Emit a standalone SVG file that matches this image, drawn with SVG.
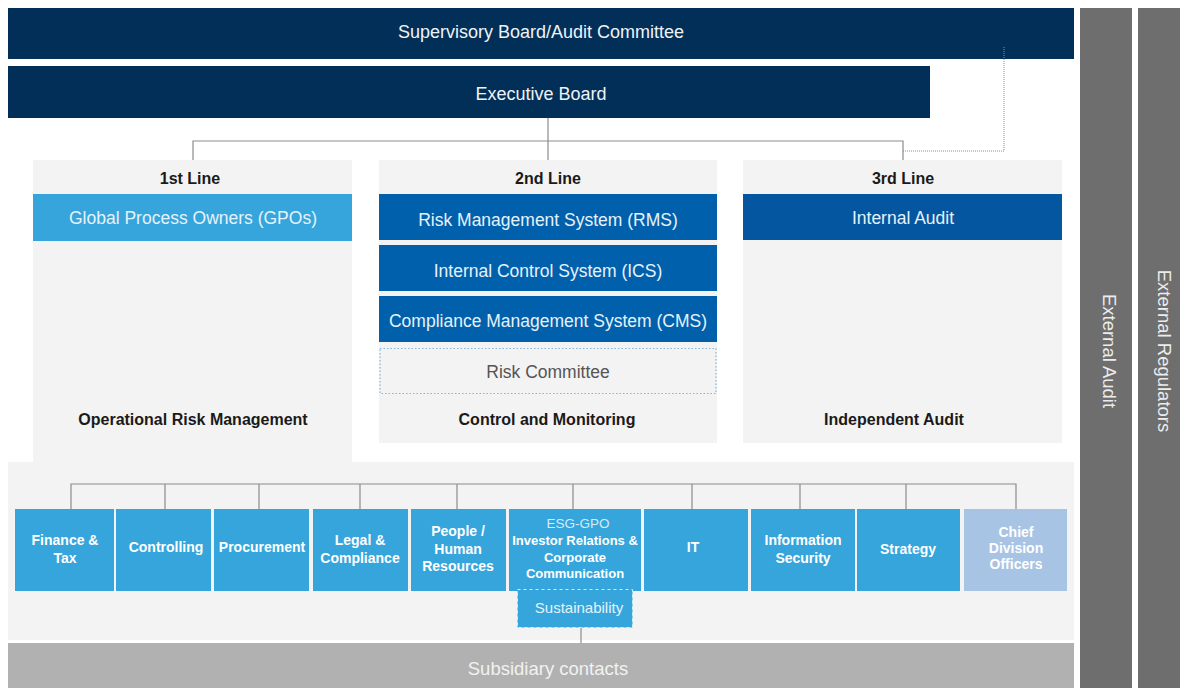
<svg xmlns="http://www.w3.org/2000/svg" width="1180" height="688" viewBox="0 0 1180 688">
<style>
text{font-family:"Liberation Sans",Arial,Helvetica,sans-serif;text-anchor:middle}
.navy{fill:#022f57}
.ext{fill:#6d6e6d}
.panel{fill:#f3f3f3}
.lb{fill:#35a5dc}
.db{fill:#0160ac}
.ia{fill:#03569f}
.wt{fill:#eef3f8;font-size:18px}
.bt{fill:#e6f2fa;font-size:17.5px}
.hd{fill:#1a1a1a;font-size:16px;font-weight:bold}
.unit{fill:#ffffff;font-size:14px;font-weight:bold}
.vt{fill:#ececec;font-size:18.5px;dominant-baseline:central}
.conn{stroke:#8c8c8c;stroke-width:1.2;fill:none}
</style>
<rect x="0" y="0" width="1180" height="688" fill="#ffffff"/>

<g id="external-audit"><rect class="ext" x="1080" y="8" width="52" height="680"/><text class="vt" transform="translate(1109,351) rotate(90)">External Audit</text></g>
<g id="external-regulators"><rect class="ext" x="1138" y="8" width="42" height="680"/><text class="vt" transform="translate(1164,351) rotate(90)">External Regulators</text></g>

<g id="supervisory-board"><rect class="navy" x="8" y="8" width="1066" height="51"/><text class="wt" x="541" y="38">Supervisory Board/Audit Committee</text></g>
<g id="executive-board"><rect class="navy" x="8" y="66" width="922" height="52"/><text class="wt" x="541" y="100">Executive Board</text></g>

<g id="bottom-area"><rect class="panel" x="8" y="462" width="1066" height="178"/></g>

<g id="line1"><rect class="panel" x="33" y="160" width="319" height="303"/><text class="hd" x="190" y="184">1st Line</text><text class="hd" x="193" y="425">Operational Risk Management</text></g>
<g id="gpo"><rect class="lb" x="33" y="194" width="319" height="47"/><text class="bt" x="193" y="224">Global Process Owners (GPOs)</text></g>

<g id="line2"><rect class="panel" x="379" y="160" width="338" height="283"/><text class="hd" x="548" y="184">2nd Line</text><text class="hd" x="547" y="425">Control and Monitoring</text></g>
<g id="rms"><rect class="db" x="379" y="194" width="338" height="46"/><text class="bt" x="548" y="226">Risk Management System (RMS)</text></g>
<g id="ics"><rect class="db" x="379" y="245" width="338" height="46"/><text class="bt" x="548" y="277">Internal Control System (ICS)</text></g>
<g id="cms"><rect class="db" x="379" y="296" width="338" height="46"/><text class="bt" x="548" y="327">Compliance Management System (CMS)</text></g>
<g id="risk-committee"><rect x="380" y="348.5" width="336" height="45" fill="#f3f3f3" stroke="#82b4dc" stroke-width="1.2" stroke-dasharray="1.5 2"/><text x="548" y="378" style="fill:#555555;font-size:17.5px">Risk Committee</text></g>

<g id="line3"><rect class="panel" x="743" y="160" width="319" height="283"/><text class="hd" x="903" y="184">3rd Line</text><text class="hd" x="894" y="425">Independent Audit</text></g>
<g id="internal-audit"><rect class="ia" x="743" y="194" width="319" height="46"/><text class="bt" x="903" y="224">Internal Audit</text></g>

<g id="subsidiary"><rect x="8" y="643" width="1066" height="45" fill="#b0b1b0"/><text x="548" y="675" style="fill:#f2f2f2;font-size:18.5px">Subsidiary contacts</text></g>

<g id="connectors">
<path class="conn" d="M548,118 V160 M193,160 V141 H903 V160"/>
<path d="M903,151 H1004 V46" fill="none" stroke="#8c8c8c" stroke-width="1" stroke-dasharray="1 1"/>
<path class="conn" d="M71,509 V484 H1016 V509 M165,484 V509 M259,484 V509 M360,484 V509 M457,484 V509 M573,484 V509 M692,484 V509 M800,484 V509 M906,484 V509"/>
<path class="conn" d="M581,628 V643"/>
</g>

<g id="finance"><rect class="lb" x="15" y="509" width="99" height="82"/><text class="unit" x="65" y="545">Finance &amp;</text><text class="unit" x="65" y="563">Tax</text></g>
<g id="controlling"><rect class="lb" x="116" y="509" width="95" height="82"/><text class="unit" x="166" y="552">Controlling</text></g>
<g id="procurement"><rect class="lb" x="214" y="509" width="95" height="82"/><text class="unit" x="262" y="552">Procurement</text></g>
<g id="legal"><rect class="lb" x="313" y="509" width="95" height="82"/><text class="unit" x="360" y="545">Legal &amp;</text><text class="unit" x="360" y="563">Compliance</text></g>
<g id="people"><rect class="lb" x="411" y="509" width="95" height="82"/><text class="unit" x="458" y="536">People /</text><text class="unit" x="458" y="554">Human</text><text class="unit" x="458" y="571">Resources</text></g>
<g id="esg"><rect class="lb" x="509" y="509" width="132" height="82"/><text x="578" y="528" style="fill:#d6ebf7;font-size:13.5px">ESG-GPO</text><text class="unit" x="575" y="545" style="font-size:13px">Investor Relations &amp;</text><text class="unit" x="575" y="562" style="font-size:13px">Corporate</text><text class="unit" x="575" y="578" style="font-size:13px">Communication</text></g>
<g id="sustainability"><rect class="lb" x="517.5" y="589.5" width="115" height="38" stroke="#d9edf9" stroke-width="1" stroke-dasharray="3 3"/><text x="579" y="613" style="fill:#e6f2fa;font-size:15px">Sustainability</text></g>
<g id="it"><rect class="lb" x="644" y="509" width="104" height="82"/><text class="unit" x="693" y="552">IT</text></g>
<g id="infosec"><rect class="lb" x="751" y="509" width="104" height="82"/><text class="unit" x="803" y="545">Information</text><text class="unit" x="803" y="563">Security</text></g>
<g id="strategy"><rect class="lb" x="857" y="509" width="103" height="82"/><text class="unit" x="908" y="554">Strategy</text></g>
<g id="chief"><rect x="964" y="509" width="103" height="82" fill="#a8c4e5"/><text class="unit" x="1016" y="537">Chief</text><text class="unit" x="1016" y="553">Division</text><text class="unit" x="1016" y="569">Officers</text></g>
</svg>
